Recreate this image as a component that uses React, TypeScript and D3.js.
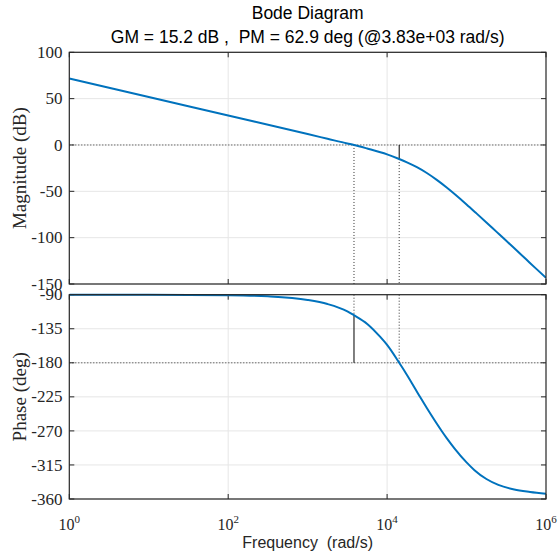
import React from 'react';
import * as d3 from 'd3';

const W = 558;
const H = 554;

// Magnitude response (rad/s, dB)
const magFreq = [1, 10, 100, 1000, 1778, 3162, 3830, 5623, 10000, 14200, 17783, 23714, 31623, 42170, 56234, 74989, 100000, 133352, 177828, 237137, 316228, 421697, 562341, 749894, 1000000];
const magDb = [71.8, 51.8, 31.8, 11.8, 6.7, 1.6, 0, -3.8, -10.1, -15.1, -18.7, -23.9, -30.2, -37.6, -45.8, -54.7, -64.1, -73.8, -83.6, -93.5, -103.4, -113.4, -123.4, -133.4, -143.35];

// Phase response (rad/s, deg)
const phaseFreq = [1, 10, 100, 316, 1000, 1778, 3162, 3830, 5623, 8150, 10000, 14200, 17783, 25942, 31623, 48641, 56234, 70795, 100000, 125893, 177828, 251189, 398107, 630957, 1000000];
const phaseDeg = [-90, -90.1, -90.7, -92.2, -97, -102.4, -112, -117.1, -128.6, -145.5, -156.4, -180, -196, -225, -239.8, -270.1, -279.5, -293.3, -311.6, -321.9, -333.6, -341.4, -347.4, -350.6, -353.0];

const magTicks = [100, 50, 0, -50, -100, -150];
const phaseTicks = [-90, -135, -180, -225, -270, -315, -360];
const freqTicks = [1, 100, 10000, 1000000];
const freqTickExp = ['0', '2', '4', '6'];

// Margins
const gainCross = 3830; // rad/s
const phaseCross = 14200; // rad/s
const gmDb = -15.2;
const pmPhase = -117.1;

const titleLine1 = 'Bode Diagram';
const titleLine2 = 'GM = 15.2 dB ,  PM = 62.9 deg (@3.83e+03 rad/s)';
const xLabel = 'Frequency  (rad/s)';

const SANS = '"Liberation Sans", Arial, Helvetica, sans-serif';
const SERIF = '"Liberation Serif", "Times New Roman", Times, serif';
const AXC = '#262626';
const GRID = '#e6e6e6';
const LINE = '#0072BD';

export default function App() {
  const x = d3.scaleLog().domain([1, 1e6]).range([69.3, 546]);
  const yM = d3.scaleLinear().domain([-150, 100]).range([284, 52.3]);
  const yP = d3.scaleLinear().domain([-360, -90]).range([499, 294.7]);

  const magLine = d3
    .line<number>()
    .x((_, i) => x(magFreq[i]))
    .y((d) => yM(d))
    .curve(d3.curveMonotoneX);
  const phLine = d3
    .line<number>()
    .x((_, i) => x(phaseFreq[i]))
    .y((d) => yP(d))
    .curve(d3.curveMonotoneX);

  const x0 = x(1);
  const x1 = x(1e6);
  const gridX = [100, 10000];
  const tl = 5;

  const panel = (
    yScale: d3.ScaleLinear<number, number>,
    ticks: number[],
    key: string
  ) => {
    const [ymin, ymax] = yScale.domain();
    const top = yScale(ymax);
    const bot = yScale(ymin);
    return (
      <g key={key}>
        {ticks.map((t) => (
          <line key={'gy' + t} x1={x0} x2={x1} y1={yScale(t)} y2={yScale(t)} stroke={GRID} strokeWidth={1} />
        ))}
        {gridX.map((f) => (
          <line key={'gx' + f} x1={x(f)} x2={x(f)} y1={top} y2={bot} stroke={GRID} strokeWidth={1} />
        ))}
        {ticks.map((t) => (
          <g key={'t' + t}>
            <line x1={x0} x2={x0 + tl} y1={yScale(t)} y2={yScale(t)} stroke={AXC} />
            <line x1={x1} x2={x1 - tl} y1={yScale(t)} y2={yScale(t)} stroke={AXC} />
            <text x={62.5} y={yScale(t)} dy="0.33em" textAnchor="end" fontFamily={SERIF} fontSize={17} fill={AXC}>
              {t}
            </text>
          </g>
        ))}
        {freqTicks.map((f) => (
          <g key={'xt' + f}>
            <line x1={x(f)} x2={x(f)} y1={bot} y2={bot - tl} stroke={AXC} />
            <line x1={x(f)} x2={x(f)} y1={top} y2={top + tl} stroke={AXC} />
          </g>
        ))}
      </g>
    );
  };

  return (
    <svg width={W} height={H} style={{ position: 'absolute', left: 0, top: 0, background: '#fff' }}>
      <rect x={0} y={0} width={W} height={H} fill="#fff" />
      {panel(yM, magTicks, 'mag')}
      {panel(yP, phaseTicks, 'ph')}

      {/* reference lines: magnitude */}
      <line x1={x0} x2={x1} y1={yM(0)} y2={yM(0)} stroke="#333" strokeWidth={1} strokeDasharray="1 2" />
      <line x1={x(gainCross)} x2={x(gainCross)} y1={yM(0)} y2={yM(-150)} stroke="#333" strokeWidth={1} strokeDasharray="1 2" />
      <line x1={x(phaseCross)} x2={x(phaseCross)} y1={yM(gmDb)} y2={yM(-150)} stroke="#333" strokeWidth={1} strokeDasharray="1 2" />
      <line x1={x(phaseCross)} x2={x(phaseCross)} y1={yM(0)} y2={yM(gmDb)} stroke="#000" strokeWidth={1} />

      {/* reference lines: phase */}
      <line x1={x0} x2={x1} y1={yP(-180)} y2={yP(-180)} stroke="#333" strokeWidth={1} strokeDasharray="1 2" />
      <line x1={x(gainCross)} x2={x(gainCross)} y1={yP(-90)} y2={yP(pmPhase)} stroke="#333" strokeWidth={1} strokeDasharray="1 2" />
      <line x1={x(gainCross)} x2={x(gainCross)} y1={yP(pmPhase)} y2={yP(-180)} stroke="#000" strokeWidth={1} />
      <line x1={x(phaseCross)} x2={x(phaseCross)} y1={yP(-90)} y2={yP(-180)} stroke="#333" strokeWidth={1} strokeDasharray="1 2" />

      {/* curves */}
      <defs>
        <clipPath id="clipM">
          <rect x={x0} y={yM(100)} width={x1 - x0} height={yM(-150) - yM(100)} />
        </clipPath>
        <clipPath id="clipP">
          <rect x={x0} y={yP(-90) - 2} width={x1 - x0} height={yP(-360) - yP(-90) + 2} />
        </clipPath>
      </defs>
      <path d={magLine(magDb) || ''} fill="none" stroke={LINE} strokeWidth={2} clipPath="url(#clipM)" />
      <path d={phLine(phaseDeg) || ''} fill="none" stroke={LINE} strokeWidth={2} clipPath="url(#clipP)" />

      {/* frames */}
      <rect x={x0} y={yM(100)} width={x1 - x0} height={yM(-150) - yM(100)} fill="none" stroke={AXC} strokeWidth={1.2} />
      <rect x={x0} y={yP(-90)} width={x1 - x0} height={yP(-360) - yP(-90)} fill="none" stroke={AXC} strokeWidth={1.2} />

      {/* x tick labels */}
      {freqTicks.map((f, i) => (
        <text key={'xl' + f} x={x(f)} y={530} textAnchor="middle" fontFamily={SERIF} fontSize={16} fill={AXC}>
          10
          <tspan fontSize={11} dy={-7}>
            {freqTickExp[i]}
          </tspan>
        </text>
      ))}

      {/* axis labels */}
      <text x={(x0 + x1) / 2} y={548} textAnchor="middle" fontFamily={SANS} fontSize={16} fill={AXC} xmlSpace="preserve" style={{ whiteSpace: 'pre' }}>
        {xLabel}
      </text>
      <text
        transform={`translate(20, ${(yM(100) + yM(-150)) / 2}) rotate(-90)`}
        dy="0.33em"
        textAnchor="middle"
        fontFamily={SERIF}
        fontSize={19}
        fill={AXC}
      >
        Magnitude (dB)
      </text>
      <text
        transform={`translate(20, ${(yP(-90) + yP(-360)) / 2}) rotate(-90)`}
        dy="0.33em"
        textAnchor="middle"
        fontFamily={SERIF}
        fontSize={19}
        fill={AXC}
      >
        Phase (deg)
      </text>

      {/* title */}
      <text x={(x0 + x1) / 2} y={19} textAnchor="middle" fontFamily={SANS} fontSize={17.5} fill="#000" xmlSpace="preserve" style={{ whiteSpace: 'pre' }}>
        {titleLine1}
      </text>
      <text x={(x0 + x1) / 2} y={42.5} textAnchor="middle" fontFamily={SANS} fontSize={17.5} fill="#000" xmlSpace="preserve" style={{ whiteSpace: 'pre' }}>
        {titleLine2}
      </text>
    </svg>
  );
}
